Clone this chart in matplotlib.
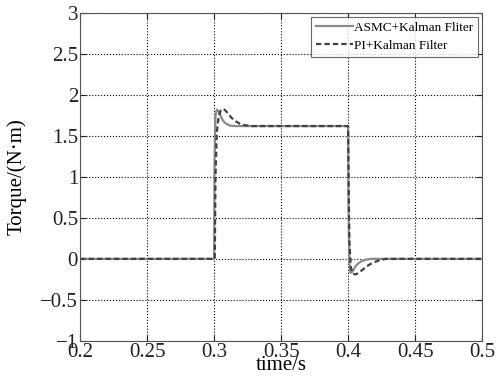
import matplotlib.pyplot as plt

plt.rcParams.update({
    'font.family': 'Liberation Serif',
    'font.size': 15,
    'xtick.direction': 'in',
    'ytick.direction': 'in',
    'xtick.top': True,
    'ytick.right': True,
})

# ASMC + Kalman filter (solid, light grey)
t_asmc = [0.2, 0.3, 0.3003, 0.301, 0.302, 0.3035, 0.305, 0.3065, 0.308, 0.310,
          0.312, 0.315, 0.4, 0.4003, 0.401, 0.4017, 0.403, 0.4045, 0.406,
          0.408, 0.410, 0.413, 0.417, 0.5]
v_asmc = [0.0, 0.0, 1.2, 1.74, 1.82, 1.8, 1.74, 1.69, 1.66, 1.64,
          1.625, 1.62, 1.62, 0.6, -0.08, -0.17, -0.16, -0.12, -0.08,
          -0.05, -0.03, -0.01, 0.0, 0.0]

# PI + Kalman filter (dashed, dark grey)
t_pi = [0.2, 0.3005, 0.301, 0.302, 0.3035, 0.305, 0.307, 0.309, 0.311, 0.313,
        0.316, 0.319, 0.323, 0.328, 0.4, 0.4005, 0.401, 0.402, 0.4035, 0.4055,
        0.408, 0.411, 0.414, 0.418, 0.423, 0.428, 0.5]
v_pi = [0.0, 0.0, 1.0, 1.55, 1.75, 1.81, 1.83, 1.8, 1.76, 1.72,
        1.68, 1.65, 1.63, 1.62, 1.62, 0.8, 0.2, -0.1, -0.18, -0.19,
        -0.17, -0.13, -0.09, -0.05, -0.02, 0.0, 0.0]

xticks = [0.2, 0.25, 0.3, 0.35, 0.4, 0.45, 0.5]
yticks = [-1, -0.5, 0, 0.5, 1, 1.5, 2, 2.5, 3]

fig = plt.figure(figsize=(4.98, 3.80), dpi=100)
ax = fig.add_axes([0.161, 0.103, 0.807, 0.863])

ax.plot(t_asmc, v_asmc, '-', color='#8a8a8a', lw=1.6, label='ASMC+Kalman Fliter')
ax.plot(t_pi, v_pi, '--', color='#404040', lw=1.6, dashes=(2.4, 1.4),
        label='PI+Kalman Filter')

ax.set_xlim(0.2, 0.5)
ax.set_ylim(-1, 3)
ax.set_xticks(xticks)
ax.set_xticklabels([f'{x:g}' for x in xticks])
ax.set_yticks(yticks)
ax.set_yticklabels([f'{y:g}'.replace('-', '\u2212') for y in yticks])
ax.grid(True, color='black', linestyle=':', linewidth=0.8)
for s in ax.spines.values():
    s.set_color('#555555')
ax.tick_params(length=4, pad=1.5, colors='#222222')

ax.set_xlabel('time/s', labelpad=-4)
ax.set_ylabel('Torque/(N·m)', labelpad=10)

leg = ax.legend(loc='upper right', fontsize=9.5, frameon=True, fancybox=False,
                borderaxespad=0.3, handlelength=2.8, handletextpad=0.1,
                borderpad=0.35, labelspacing=0.45)
leg.get_frame().set_edgecolor('#444444')
leg.get_frame().set_linewidth(0.8)

fig.savefig('out.png', dpi=100)
